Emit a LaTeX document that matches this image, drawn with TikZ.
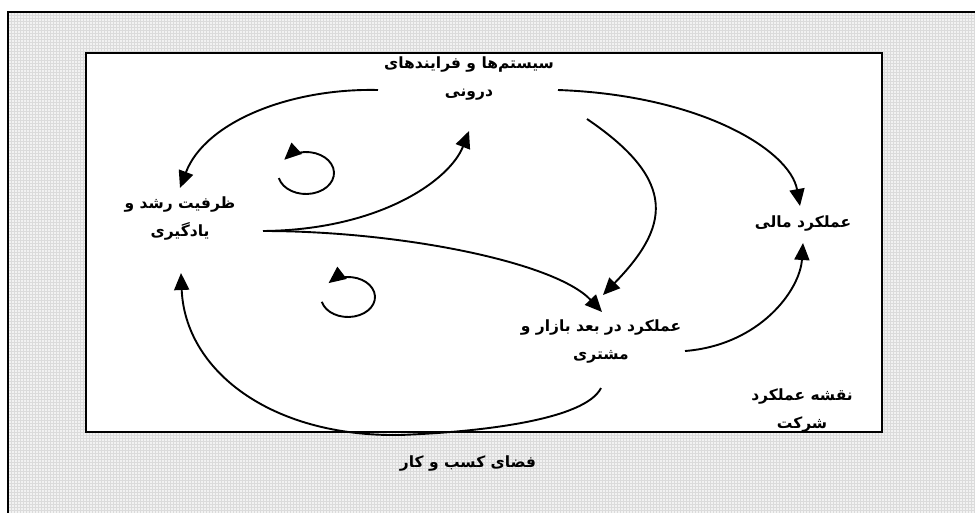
\documentclass[tikz,border=0pt]{standalone}
\usepackage{fontspec}
\usetikzlibrary{arrows.meta,calc}
\TeXXeTstate=1
\newfontfamily\fafont[Script=Arabic]{DejaVu Sans}
\begin{document}
\begin{tikzpicture}[x=1pt,y=-1pt,
  lbl/.style={font=\fafont\bfseries\fontsize{15.5}{28}\selectfont, align=center, inner sep=0pt},
  conn/.style={line width=1.9pt, -{Triangle[length=17pt,width=15pt]}},
  plain/.style={line width=1.9pt}]
\useasboundingbox (0,0) rectangle (975,512);
% outer patterned frame
\fill[gray!10] (8,12) rectangle (980,520);
\begin{scope}
\clip (8,12) rectangle (975,512);
\foreach \i in {0,...,170} {
  \draw[gray!28, line width=0.6pt] (8,12+3*\i) -- (980,12+3*\i);
}
\foreach \i in {0,...,325} {
  \draw[gray!28, line width=0.6pt] (8+3*\i,12) -- (8+3*\i,520);
}
\end{scope}
\draw[line width=2pt] (980,12) -- (8,12) -- (8,520);
% inner white area
\fill[white] (86,53) rectangle (882,432);
\draw[line width=1.6pt] (86,53) rectangle (882,432);
% labels
\node[lbl] (sys) at (469,78) {\beginR سیستم‌ها و فرایندهای\endR\\\beginR درونی\endR};
\node[lbl] (grow) at (180,218) {\beginR ظرفیت رشد و\endR\\\beginR یادگیری\endR};
\node[lbl] (fin) at (803,223) {\beginR عملکرد مالی\endR};
\node[lbl] (mkt) at (601,341) {\beginR عملکرد در بعد  بازار و\endR\\\beginR مشتری\endR};
\node[lbl] (map) at (802,410) {\beginR نقشه عملکرد\endR\\\beginR شرکت\endR};
\node[lbl] (env) at (468,463) {\beginR فضای کسب و کار\endR};
% connector end points
\coordinate (sysL) at (378,90);
\coordinate (sysR) at (558,90);
\coordinate (sysB) at (587,119);
\coordinate (growR) at (263,231);
\coordinate (growT) at (180,188);
\coordinate (growB) at (181,273);
\coordinate (finT) at (800,206);
\coordinate (finB) at (803,243);
\coordinate (mktT1) at (603,295);
\coordinate (mktT2) at (602,312);
\coordinate (mktR) at (685,351);
\coordinate (mktB) at (601,388);
\coordinate (sysT) at (469,131);
\coordinate (envM) at (400,435);
\coordinate (loopA) at (306,173);
\coordinate (loopB) at (348,297);
% connectors
\draw[conn] (sysL) .. controls (290,88) and (205,122) .. (growT);
\draw[conn] (sysR) .. controls (700,95) and (790,150) .. (finT);
\draw[conn] (sysB) .. controls (680,182) and (668,228) .. (mktT1);
\draw[conn] (growR) .. controls (380,230) and (450,180) .. (sysT);
\draw[conn] (growR) .. controls (400,231) and (555,262) .. (mktT2);
\draw[conn] (mktR) .. controls (760,345) and (800,290) .. (finB);
\draw[plain] (mktB) .. controls (585,420) and (480,432) .. (envM);
\draw[conn] (envM) .. controls (270,437) and (185,370) .. (growB);
% loops
\draw[conn] ($(loopA)+(166:28 and 21)$) arc[start angle=166, end angle=-141, x radius=28, y radius=21];
\draw[conn] ($(loopB)+(166:27 and 20)$) arc[start angle=166, end angle=-136, x radius=27, y radius=20];
\end{tikzpicture}
\end{document}
